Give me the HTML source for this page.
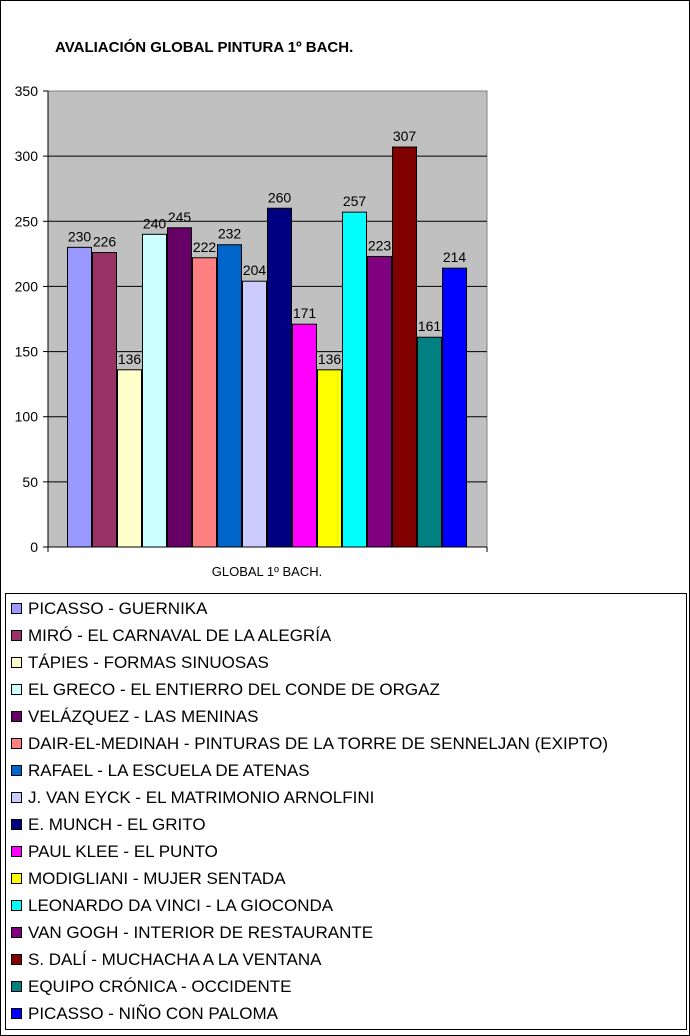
<!DOCTYPE html>
<html><head><meta charset="utf-8"><style>
body{margin:0;background:#fff;}
#wrap{position:relative;width:690px;height:1036px;overflow:hidden;font-family:"Liberation Sans",Arial,sans-serif;}
</style></head><body>
<div id="wrap">
<svg id="svg" width="690" height="1036" xmlns="http://www.w3.org/2000/svg">
<rect x="0.5" y="0.5" width="689" height="1035" fill="#fff" stroke="#000"/>
<text x="55" y="52" font-size="15" font-weight="bold" font-family="Liberation Sans, sans-serif">AVALIACIÓN GLOBAL PINTURA 1º BACH.</text>
<rect x="48" y="91" width="439" height="456" fill="#c0c0c0" stroke="#808080"/>
<g id="grid"></g><g id="bars"></g><g id="axis"></g>
<text x="267" y="576" font-size="13" text-anchor="middle" font-family="Liberation Sans, sans-serif">GLOBAL 1º BACH.</text>
<rect x="5.5" y="593.5" width="681" height="436" fill="#fff" stroke="#000"/>
<g id="legend"></g>
</svg>
</div>
<script>
const labels=["PICASSO - GUERNIKA","MIRÓ - EL CARNAVAL DE LA ALEGRÍA","TÁPIES - FORMAS SINUOSAS","EL GRECO - EL ENTIERRO DEL CONDE DE ORGAZ","VELÁZQUEZ - LAS MENINAS","DAIR-EL-MEDINAH - PINTURAS DE LA TORRE DE SENNELJAN (EXIPTO)","RAFAEL - LA ESCUELA DE ATENAS","J. VAN EYCK - EL MATRIMONIO ARNOLFINI","E. MUNCH - EL GRITO","PAUL KLEE - EL PUNTO","MODIGLIANI - MUJER SENTADA","LEONARDO DA VINCI - LA GIOCONDA","VAN GOGH - INTERIOR DE RESTAURANTE","S. DALÍ - MUCHACHA A LA VENTANA","EQUIPO CRÓNICA - OCCIDENTE","PICASSO - NIÑO CON PALOMA"];
const values=[230,226,136,240,245,222,232,204,260,171,136,257,223,307,161,214];
const colors=["#9999ff","#993366","#ffffcc","#ccffff","#660066","#ff8080","#0066cc","#ccccff","#000080","#ff00ff","#ffff00","#00ffff","#800080","#800000","#008080","#0000ff"];
const ticks=[0,50,100,150,200,250,300,350];
const NS="http://www.w3.org/2000/svg";
const x0=48,x1=487,yTop=91,yBot=547,maxV=350,barStart=67,barW=25;
const y=v=>yBot-(v/maxV)*(yBot-yTop);
function mk(tag,attrs,parent,txt){const e=document.createElementNS(NS,tag);for(const k in attrs)e.setAttribute(k,attrs[k]);if(txt!==undefined)e.textContent=txt;parent.appendChild(e);return e;}
const grid=document.getElementById('grid'),axis=document.getElementById('axis'),bars=document.getElementById('bars'),leg=document.getElementById('legend');
ticks.forEach(t=>{
 if(t>0&&t<maxV){const l=mk('line',{x1:x0,x2:x1,y1:y(t),y2:y(t),stroke:'#000'},grid);
 
 }
 const tk=mk('line',{x1:x0-5,x2:x0,y1:y(t),y2:y(t),stroke:'#000'},axis);
 
 
 const tl=mk('text',{x:x0-10,y:y(t)+5,'font-size':14,'text-anchor':'end','font-family':'Liberation Sans, sans-serif'},axis,String(t));
 
 
});
const ya=mk('line',{x1:x0,x2:x0,y1:yTop,y2:yBot,stroke:'#000'},axis);


const xa=mk('line',{x1:x0,x2:x1,y1:yBot,y2:yBot,stroke:'#000'},axis);


[x0,x1].forEach(xx=>{const t=mk('line',{x1:xx,x2:xx,y1:yBot,y2:yBot+5,stroke:'#000'},axis);
 
 });
values.forEach((v,i)=>{
 const bx=barStart+i*barW;
 const r=mk('rect',{x:bx+0.5,y:y(v),width:barW-1,height:yBot-y(v),fill:colors[i],stroke:'#000'},bars);
 
 
 const t=mk('text',{x:bx+barW/2,y:y(v)-6,'font-size':14,'text-anchor':'middle','font-family':'Liberation Sans, sans-serif'},bars,String(v));
 
 
});
labels.forEach((s,i)=>{
 const yy=608+i*27;
 const sq=mk('rect',{x:11.5,y:yy-4.5,width:10,height:10,fill:colors[i],stroke:'#000'},leg);
 
 
 const t=mk('text',{x:28,y:yy+6,'font-size':17,'font-family':'Liberation Sans, sans-serif'},leg,s);
 
 
});
</script>
</body></html>
